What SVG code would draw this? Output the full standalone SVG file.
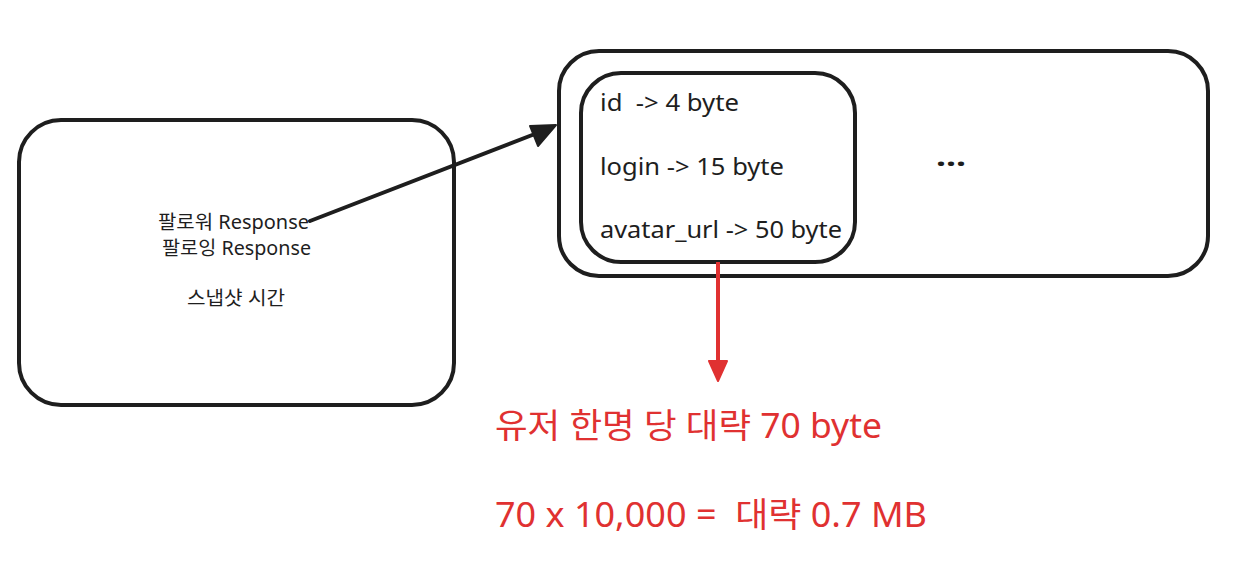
<svg xmlns="http://www.w3.org/2000/svg" width="1234" height="564" viewBox="0 0 1234 564">
<style>
.box{fill:none;stroke:#1e1e1e;stroke-width:4}
.t{font-family:"Noto Sans","Noto Sans CJK KR",sans-serif;fill:#1e1e1e}
.r{font-family:"Noto Sans","Noto Sans CJK KR",sans-serif;fill:#e03131}
</style>
<rect width="1234" height="564" fill="#ffffff"/>
<g id="left-node">
<rect class="box" x="19" y="120" width="435" height="285" rx="42"/>
<text class="t" x="158" y="229" font-size="19" textLength="151" lengthAdjust="spacingAndGlyphs">팔로워 Response</text>
<text class="t" x="162" y="255" font-size="19" textLength="149" lengthAdjust="spacingAndGlyphs">팔로잉 Response</text>
<text class="t" x="187" y="305" font-size="19" textLength="98" lengthAdjust="spacingAndGlyphs">스냅샷 시간</text>
</g>
<g id="outer-node">
<rect class="box" x="559" y="51" width="649" height="225" rx="40"/>
<text class="t" x="936" y="166" font-size="26" font-weight="bold" textLength="30" lengthAdjust="spacingAndGlyphs">...</text>
</g>
<g id="inner-node">
<rect class="box" x="581" y="73" width="274" height="189" rx="40"/>
<text class="t" x="600" y="111" font-size="23" xml:space="preserve" textLength="139" lengthAdjust="spacingAndGlyphs">id  -&gt; 4 byte</text>
<text class="t" x="600" y="175" font-size="23" textLength="184" lengthAdjust="spacingAndGlyphs">login -&gt; 15 byte</text>
<text class="t" x="600" y="238" font-size="23" textLength="242" lengthAdjust="spacingAndGlyphs">avatar_url -&gt; 50 byte</text>
</g>
<g id="result-text">
<text class="r" x="495" y="438" font-size="34" textLength="387" lengthAdjust="spacingAndGlyphs">유저 한명 당 대략 70 byte</text>
<text class="r" x="495" y="527" font-size="34" xml:space="preserve" textLength="432" lengthAdjust="spacingAndGlyphs">70 x 10,000 =  대략 0.7 MB</text>
</g>
<g id="connectors">
<line x1="310" y1="221" x2="540" y2="132" stroke="#1e1e1e" stroke-width="4" stroke-linecap="round"/>
<path d="M556,125 L530,126 L538,146 z" fill="#1e1e1e" stroke="#1e1e1e" stroke-width="2" stroke-linejoin="round"/>
<line x1="718" y1="262" x2="718" y2="362" stroke="#e03131" stroke-width="4"/>
<path d="M709,361 L727,361 L718,381 z" fill="#e03131" stroke="#e03131" stroke-width="2" stroke-linejoin="round"/>
</g>
</svg>
